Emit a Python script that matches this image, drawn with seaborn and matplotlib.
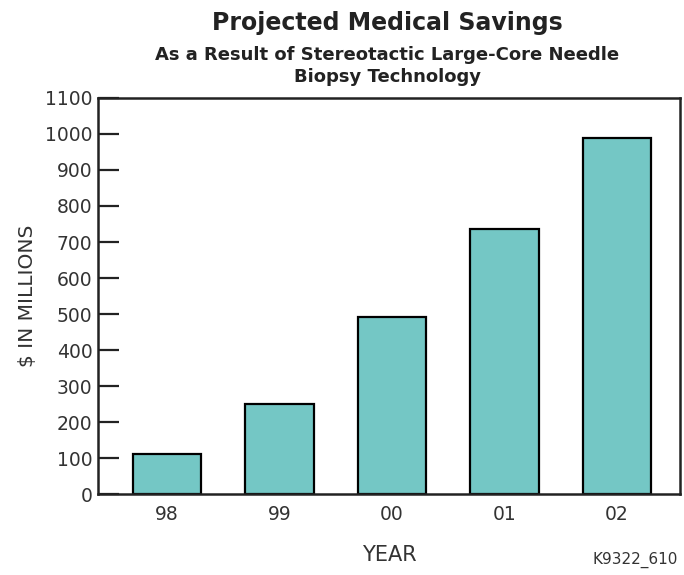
import matplotlib
matplotlib.use("Agg")
import matplotlib.pyplot as plt
import seaborn as sns
import pandas as pd

years = ["98", "99", "00", "01", "02"]
savings = [112, 251, 493, 735, 988]
yticks = list(range(0, 1101, 100))

title = "Projected Medical Savings"
subtitle = "As a Result of Stereotactic Large-Core Needle\nBiopsy Technology"
xlabel = "YEAR"
ylabel = "$ IN MILLIONS"
code = "K9322_610"

sns.set_theme(style="white")
plt.rcParams['font.family'] = ['DejaVu Sans']

df = pd.DataFrame({"year": years, "savings": savings})

fig = plt.figure(figsize=(6.84, 5.75), dpi=100)
ax = fig.add_axes([98/684, 81/575, 582/684, 396/575])

sns.barplot(data=df, x="year", y="savings", ax=ax, color="#74C7C5",
            saturation=1, width=0.61, edgecolor="black", linewidth=1.6)

ax.set_xlim(-0.614, 4.56)
ax.set_ylim(0, 1100)
ax.set_yticks(yticks)
ax.set_yticklabels([str(t) for t in yticks])
for s in ax.spines.values():
    s.set_color("#222222")
    s.set_linewidth(1.8)
ax.tick_params(axis="y", direction="in", length=15, width=1.6, color="#222222",
               labelsize=13.5, labelcolor="#333333", pad=4, left=True)
ax.tick_params(axis="x", length=0, labelsize=13.5, labelcolor="#333333", pad=8)
ax.set_xlabel(xlabel, fontsize=15, color="#333333", labelpad=15)
ax.set_ylabel(ylabel, fontsize=14.5, color="#333333", labelpad=6)

fig.text(387/684, 1 - 23/575, title, ha="center", va="center",
         fontsize=17, fontweight="bold", color="#222222")
fig.text(387/684, 1 - 66/575, subtitle, ha="center", va="center",
         fontsize=13, fontweight="bold", color="#222222", linespacing=1.35)
fig.text(635/684, 1 - 560/575, code, ha="center", va="center",
         fontsize=11, color="#333333")

fig.savefig("out.png", dpi=100, facecolor="white")
